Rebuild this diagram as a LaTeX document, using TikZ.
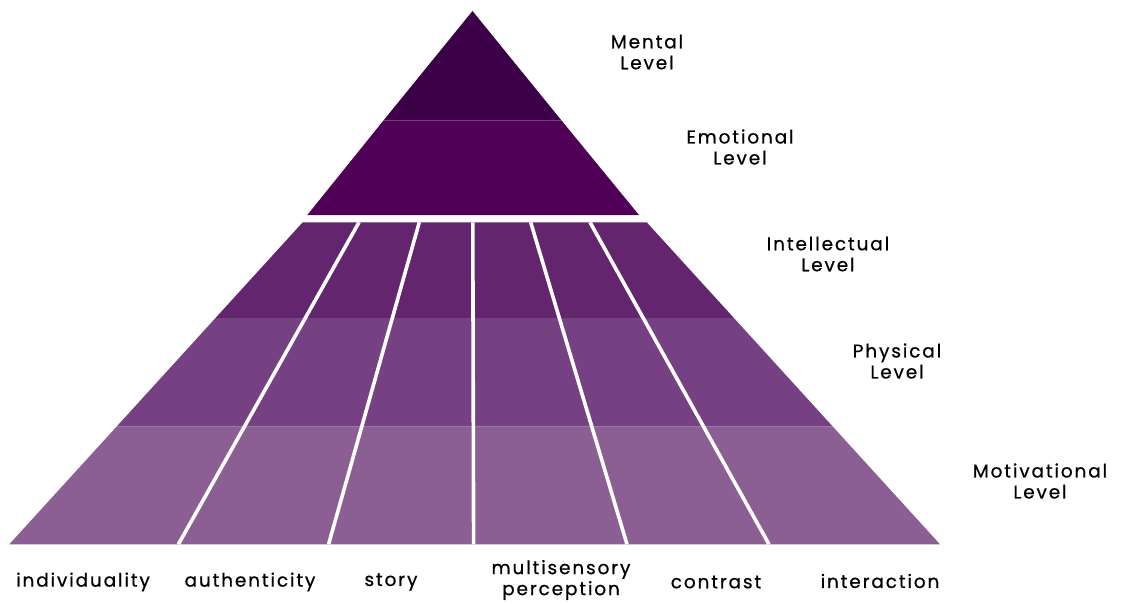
\documentclass[tikz,border=0pt]{standalone}
\usepackage{fontspec}
\setmainfont{Poppins}
\begin{document}
\begin{tikzpicture}[x=1pt,y=-1pt,
  lvlMental/.style={fill={rgb,255:red,60;green,0;blue,72}},
  lvlEmotional/.style={fill={rgb,255:red,80;green,0;blue,86}},
  lvlIntellectual/.style={fill={rgb,255:red,99;green,37;blue,110}},
  lvlPhysical/.style={fill={rgb,255:red,118;green,65;blue,131}},
  lvlMotivational/.style={fill={rgb,255:red,139;green,95;blue,148}},
  divider/.style={draw=white,line width=3.6pt},
  lbl/.style={align=center,inner sep=0pt,text=black,
    font=\fontsize{18.5}{21}\selectfont\addfontfeatures{LetterSpace=10,FakeBold=0.6}}]
\useasboundingbox (0,0) rectangle (1128,603);

% upper pyramid: mental and emotional levels
\fill[lvlMental] (472.5,11) -- (561.7,120.7) -- (383.3,120.7) -- cycle;
\fill[lvlEmotional] (383.3,120.7) -- (561.7,120.7) -- (639,215) -- (307.3,215) -- cycle;

% lower pyramid: intellectual, physical and motivational levels
\fill[lvlIntellectual] (302.7,222.3) -- (646.7,222.3) -- (733.9,318) -- (215.5,318) -- cycle;
\fill[lvlPhysical] (215.5,318) -- (733.9,318) -- (832.9,426.7) -- (116.5,426.7) -- cycle;
\fill[lvlMotivational] (116.5,426.7) -- (832.9,426.7) -- (940,544.3) -- (9.3,544.3) -- cycle;

% columns of the lower pyramid
\coordinate (t1) at (359,222.3);   \coordinate (b1) at (178.4,544.3);
\coordinate (t2) at (419.3,222.3); \coordinate (b2) at (328.6,544.3);
\coordinate (t3) at (472.8,222.3); \coordinate (b3) at (473.6,544.3);
\coordinate (t4) at (530.7,222.3); \coordinate (b4) at (627,544.3);
\coordinate (t5) at (590,222.3);   \coordinate (b5) at (769,544.3);
\foreach \i in {1,...,5} \draw[divider] (t\i) -- (b\i);

% level names
\node[lbl] (mental) at (647,52) {Mental\\Level};
\node[lbl] (emotional) at (740,147) {Emotional\\Level};
\node[lbl] (intellectual) at (828,254) {Intellectual\\Level};
\node[lbl] (physical) at (897,361) {Physical\\Level};
\node[lbl] (motivational) at (1040,481) {Motivational\\Level};

% column names
\node[lbl] (individuality) at (83,582) {individuality};
\node[lbl] (authenticity) at (250,582) {authenticity};
\node[lbl] (story) at (391,582) {story};
\node[lbl] (multisensory) at (561,580) {multisensory\\perception};
\node[lbl] (contrast) at (716,582) {contrast};
\node[lbl] (interaction) at (880,581) {interaction};
\end{tikzpicture}
\end{document}
